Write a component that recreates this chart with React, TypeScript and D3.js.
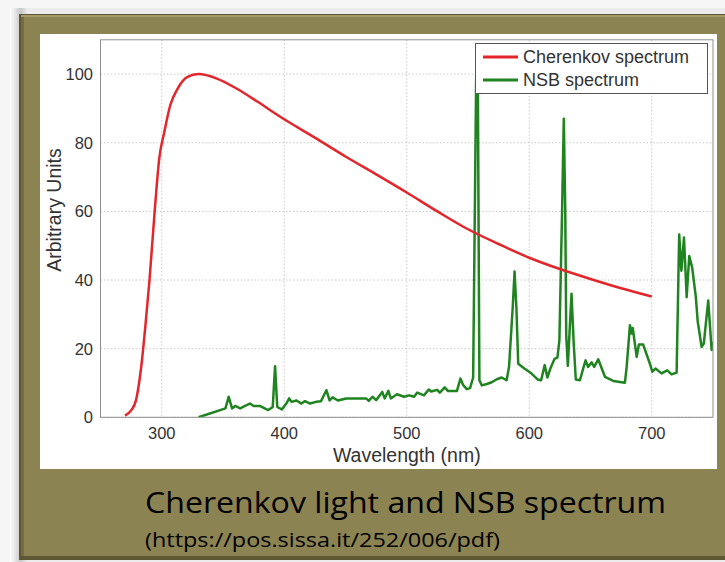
import React from "react";
import * as d3 from "d3";

// wavelength (nm) / arbitrary units
const cherenkovWl = [270, 275, 279, 283, 287, 290, 294, 298, 302, 307, 313, 321, 330, 345, 361, 378, 397, 425, 450, 475, 500, 525, 550, 575, 600, 625, 650, 675, 700];
const cherenkovVal = [0.5, 2, 5, 14, 28, 40, 59, 75.5, 83, 91, 95.8, 99.2, 100, 98.7, 95.8, 92, 87.5, 81.5, 76, 70.8, 65.5, 60, 54.8, 50.5, 46.5, 43.2, 40.3, 37.6, 35.2];

const nsbWl = [
  330, 352, 354.6, 357.4, 360, 364, 368, 372, 375, 380, 384, 387, 390.6, 392.5, 394.3, 398,
  402, 404, 406, 410, 414, 417, 421, 426, 430, 434.4, 437, 439.5, 443.8, 450.6, 466.8, 469,
  472, 475, 480, 482, 485, 487, 492, 497.8, 502, 506, 508.6, 514, 518, 520, 524.8, 527,
  531, 533.5, 541, 543.8, 546, 549, 551.7, 554.2, 556.7, 558, 559.3, 561.3, 565.4, 569.4,
  573.5, 577.5, 581.5, 583.5, 586.5, 588, 589.5, 591, 596, 601, 607, 609.7, 612.6, 614.8,
  617.4, 620.6, 623, 624.6, 626.8, 628.2, 629.4, 630.2, 631.5, 634.5, 636.3, 638, 641.4, 644,
  646, 648, 651, 653, 656.3, 661.8, 668.6, 678.1, 679.5, 682.2, 683.5, 684.5, 687.7, 689.5,
  693, 698.5, 700.5, 703, 708, 712.7, 716.2, 720.3, 722.4, 724.2, 726.3, 728.5, 730.6, 733,
  736, 737.5, 740.7, 742.5, 746.1, 748.9, 750,
];
const nsbVal = [
  0, 2.6, 6, 2.6, 3.3, 2.6, 3.3, 4, 3.3, 3.3, 2.6, 2.1, 3, 14.9, 3, 2.3,
  4.2, 5.5, 4.5, 4.9, 4, 4.7, 4, 4.5, 4.7, 7.9, 4.9, 5.8, 4.9, 5.5, 5.5, 4.8,
  6, 5, 7.4, 5.5, 7.7, 5.5, 6.7, 6, 6.4, 6, 7.2, 6.4, 8.1, 7.5, 8, 7.2,
  8.7, 7.7, 7.7, 11.3, 9.4, 8.2, 8.5, 11.6, 100, 100, 10.8, 9.3, 9.7, 10.2,
  11.1, 11.6, 10.8, 14.7, 32, 42.5, 32, 15.6, 14.2, 13, 11, 10.8, 15.2, 11.6,
  14.4, 17, 17.4, 22.4, 60, 87, 60, 23.5, 15, 36, 21.5, 11, 10.8, 14.2,
  16.6, 14.7, 16, 14.7, 16.9, 11.8, 10.6, 10.1, 14.6, 26.8, 24.4, 26, 17.6, 21.2,
  21.2, 15.6, 13.3, 14.2, 12.8, 13.7, 12.5, 13, 53.3, 42.7, 52.4, 35, 47, 43.6,
  35, 28, 20.5, 21.5, 34, 19.6, 22,
];

const xTicks = [300, 400, 500, 600, 700];
const yTicks = [0, 20, 40, 60, 80, 100];
const seriesNames = ["Cherenkov spectrum", "NSB spectrum"];

const RED = "#e2262b";
const GREEN = "#1f8420";
const OLIVE = "#8c8352";

export default function App() {
  const left = 100.5;
  const right = 713;
  const top = 39.8;
  const bottom = 417.3;

  const x = d3.scaleLinear().domain([250, 750]).range([left, right]);
  const y = d3.scaleLinear().domain([0, 110]).range([bottom, top]);

  const cher = cherenkovWl.map((w, i) => [w, cherenkovVal[i]] as [number, number]);
  const nsb = nsbWl.map((w, i) => [w, nsbVal[i]] as [number, number]);

  const smooth = d3
    .line<[number, number]>()
    .x((d) => x(d[0]))
    .y((d) => y(d[1]))
    .curve(d3.curveMonotoneX);
  const raw = d3
    .line<[number, number]>()
    .x((d) => x(d[0]))
    .y((d) => y(d[1]));

  const font = "'Liberation Sans', Arial, Helvetica, sans-serif";
  const capFont = "'Open Sans', 'Noto Sans', sans-serif";

  return (
    <svg
      width={725}
      height={562}
      style={{ position: "absolute", left: 0, top: 0, display: "block" }}
    >
      <defs>
        <clipPath id="plotClip">
          <rect x={left} y={top} width={right - left} height={bottom - top} />
        </clipPath>
        <linearGradient id="frameGrad" x1="0" x2="1" y1="0" y2="0">
          <stop offset="0" stopColor="#ffffff" />
          <stop offset="0.015" stopColor="#c9c9c9" />
          <stop offset="0.025" stopColor="#ececec" />
          <stop offset="1" stopColor="#ececec" />
        </linearGradient>
      </defs>

      {/* page frame */}
      <rect x={0} y={0} width={725} height={562} fill="#f6f6f6" />
      <rect x={10} y={8} width={715} height={554} fill="url(#frameGrad)" />
      <rect x={19} y={14} width={706} height={546} fill="#5e5733" />
      <rect x={21} y={15} width={704} height={541} fill={OLIVE} />
      <rect x={21} y={15} width={3} height={541} fill="#756d42" />
      <rect x={21} y={15} width={704} height={2} fill="#a39a68" />

      {/* white chart panel */}
      <rect x={40} y={34} width={677} height={435} fill="#ffffff" />

      {/* grid */}
      {xTicks.map((t) => (
        <line
          key={"gx" + t}
          x1={x(t)}
          x2={x(t)}
          y1={top}
          y2={bottom}
          stroke="#c8c8c8"
          strokeDasharray="1.5,2"
        />
      ))}
      {yTicks.map((t) => (
        <line
          key={"gy" + t}
          x1={left}
          x2={right}
          y1={y(t)}
          y2={y(t)}
          stroke="#c8c8c8"
          strokeDasharray="1.5,2"
        />
      ))}

      {/* series */}
      <g clipPath="url(#plotClip)">
        <path d={raw(nsb) || ""} fill="none" stroke={GREEN} strokeWidth={2.5} strokeLinejoin="round" />
        <path d={smooth(cher) || ""} fill="none" stroke={RED} strokeWidth={2.5} />
      </g>

      {/* axes box */}
      <rect x={left} y={top} width={right - left} height={bottom - top} fill="none" stroke="#8f8f8f" strokeWidth={1} />

      {/* tick labels */}
      {xTicks.map((t) => (
        <text key={"tx" + t} x={x(t)} y={439} textAnchor="middle" fontFamily={font} fontSize={16.5} fill="#333">
          {t}
        </text>
      ))}
      {yTicks.map((t) => (
        <text key={"ty" + t} x={93} y={y(t) + 6} textAnchor="end" fontFamily={font} fontSize={16.5} fill="#333">
          {t}
        </text>
      ))}

      {/* axis labels */}
      <text x={x(500)} y={462} textAnchor="middle" fontFamily={font} fontSize={19.5} fill="#333">
        Wavelength (nm)
      </text>
      <text
        transform="translate(61,210) rotate(-90)"
        textAnchor="middle"
        fontFamily={font}
        fontSize={19.5}
        fill="#333"
      >
        Arbitrary Units
      </text>

      {/* legend */}
      <rect x={475.5} y={43.5} width={232} height={50} fill="#ffffff" stroke="#555" strokeWidth={1} />
      {seriesNames.map((name, i) => (
        <g key={name}>
          <line x1={483} x2={518} y1={57 + i * 23} y2={57 + i * 23} stroke={i === 0 ? RED : GREEN} strokeWidth={2.8} />
          <text x={523} y={63 + i * 23} fontFamily={font} fontSize={18} fill="#333">
            {name}
          </text>
        </g>
      ))}

      {/* caption */}
      <text x={145} y={513} fontFamily={capFont} fontSize={30} fill="#000" textLength={521} lengthAdjust="spacingAndGlyphs">
        Cherenkov light and NSB spectrum
      </text>
      <text x={145} y={547} fontFamily={capFont} fontSize={20} fill="#000" textLength={355} lengthAdjust="spacingAndGlyphs">
        (https://pos.sissa.it/252/006/pdf)
      </text>
    </svg>
  );
}
